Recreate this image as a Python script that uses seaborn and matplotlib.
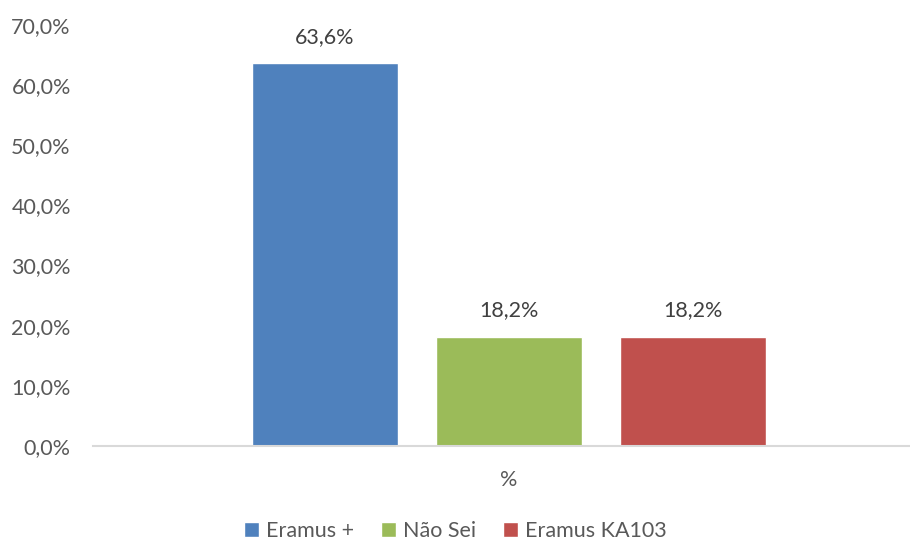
import pandas as pd
import matplotlib.pyplot as plt
import seaborn as sns
from matplotlib.ticker import FuncFormatter, MultipleLocator

# Data
series = ['Eramus +', 'Não Sei', 'Eramus KA103']
values = [63.6, 18.2, 18.2]
category = ['%', '%', '%']
colors = ['#4F81BD', '#9BBB59', '#C0504D']

df = pd.DataFrame({'cat': category, 'serie': series, 'valor': values})

sns.set_style("white")
plt.rcParams['font.family'] = ['Lato', 'DejaVu Sans']

fig = plt.figure(figsize=(9.1, 5.41), dpi=100)
ax = fig.add_axes([93 / 910, 1 - 446 / 541, 1 - 93 / 910, (446 - 25) / 541])

sns.barplot(data=df, x='cat', y='valor', hue='serie', hue_order=series,
            palette=colors, width=0.663, gap=0.207, saturation=1, ax=ax)

ax.set_ylim(0, 70)
ax.set_xlim(-0.5, 0.482)
ax.yaxis.set_major_locator(MultipleLocator(10))
ax.yaxis.set_major_formatter(FuncFormatter(lambda v, p: f"{v:.1f}%".replace('.', ',')))
ax.tick_params(axis='y', labelsize=15.5, labelcolor='#595959', length=0, pad=16)
ax.tick_params(axis='x', labelsize=15.5, labelcolor='#595959', length=0, pad=17)
ax.set_xlabel('')
ax.set_ylabel('')

for s in ['top', 'right', 'left']:
    ax.spines[s].set_visible(False)
ax.spines['bottom'].set_color('#D9D9D9')
ax.spines['bottom'].set_linewidth(1.5)

for cont in ax.containers:
    ax.bar_label(cont, labels=[f"{v:.1f}%".replace('.', ',') for v in cont.datavalues],
                 padding=12, fontsize=15.5, color='#404040')

ax.legend(loc='center', bbox_to_anchor=(0.5, 10 / 541), bbox_transform=fig.transFigure,
          ncol=3, frameon=False, fontsize=15.5, labelcolor='#595959',
          handlelength=0.72, handleheight=0.72, handletextpad=0.3, columnspacing=1.25)

fig.savefig('out.png', dpi=100)
